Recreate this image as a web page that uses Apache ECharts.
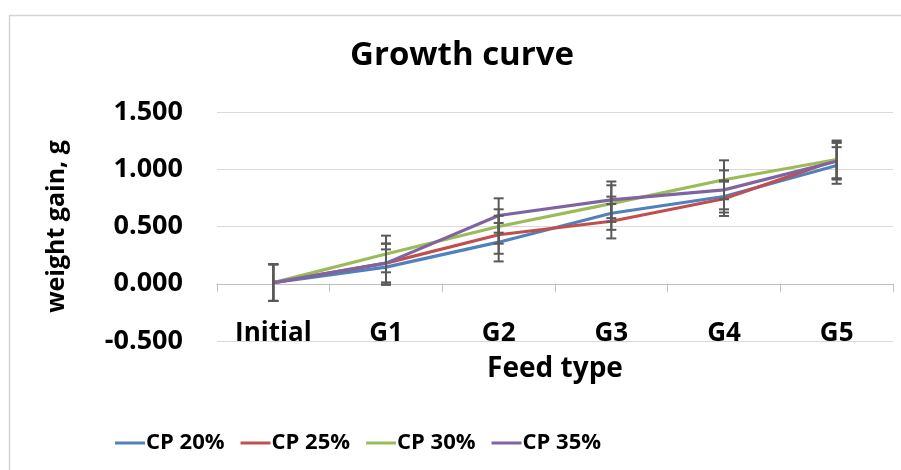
<!DOCTYPE html>
<html>
<head>
<meta charset="utf-8">
<script src="https://cdn.jsdelivr.net/npm/echarts@6/dist/echarts.min.js"></script>
<style>
html,body{margin:0;padding:0;background:#fff;}
#c{width:901px;height:470px;}
</style>
</head>
<body>
<div id="c"></div>
<script>
var categories = ['Initial', 'G1', 'G2', 'G3', 'G4', 'G5'];
var seriesNames = ['CP 20%', 'CP 25%', 'CP 30%', 'CP 35%'];
var cp20 = [0.01, 0.145, 0.363, 0.616, 0.762, 1.033];
var cp25 = [0.01, 0.18, 0.428, 0.546, 0.742, 1.08];
var cp30 = [0.01, 0.26, 0.50, 0.70, 0.908, 1.085];
var cp35 = [0.01, 0.18, 0.596, 0.733, 0.82, 1.07];
var err20 = [0.16, 0.155, 0.168, 0.145, 0.14, 0.16];
var err25 = [0.16, 0.17, 0.166, 0.15, 0.15, 0.16];
var err30 = [0.16, 0.16, 0.15, 0.16, 0.17, 0.166];
var err35 = [0.16, 0.17, 0.15, 0.16, 0.17, 0.16];
var yTicks = [-0.5, 0, 0.5, 1.0, 1.5];

var colors = ['#4F81BD', '#C0504D', '#9BBB59', '#8064A2'];
var values = [cp20, cp25, cp30, cp35];
var errs = [err20, err25, err30, err35];
var FONT = 'Open Sans';

var series = [];
values.forEach(function (v, i) {
  series.push({
    name: seriesNames[i], type: 'line', data: v, symbol: 'none',
    lineStyle: { color: colors[i], width: 3.2 }, itemStyle: { color: colors[i] },
    z: 2, animation: false
  });
});
values.forEach(function (v, i) {
  series.push({
    type: 'custom', name: 'err' + i, z: 5, animation: false,
    data: v.map(function (y, k) { return [k, y - errs[i][k], y + errs[i][k]]; }),
    renderItem: function (params, api) {
      var lo = api.coord([api.value(0), api.value(1)]);
      var hi = api.coord([api.value(0), api.value(2)]);
      var w = 5;
      var st = { stroke: '#595959', lineWidth: 2 };
      return {
        type: 'group', children: [
          { type: 'line', shape: { x1: hi[0], y1: hi[1], x2: lo[0], y2: lo[1] }, style: st },
          { type: 'line', shape: { x1: hi[0] - w, y1: hi[1], x2: hi[0] + w, y2: hi[1] }, style: st },
          { type: 'line', shape: { x1: lo[0] - w, y1: lo[1], x2: lo[0] + w, y2: lo[1] }, style: st }
        ]
      };
    }
  });
});

var chart = echarts.init(document.getElementById('c'), null, { renderer: 'canvas' });
chart.setOption({
  backgroundColor: '#fff',
  animation: false,
  textStyle: { fontFamily: FONT },
  graphic: [{
    type: 'rect', shape: { x: 9.5, y: 15.5, width: 1000, height: 1000 },
    style: { fill: 'none', stroke: '#d4d4d4', lineWidth: 1.5 }, silent: true
  }],
  title: {
    text: 'Growth curve', left: 345, top: 34,
    textStyle: { fontFamily: FONT, fontWeight: 'bold', fontSize: 33, color: '#000' }
  },
  legend: {
    data: seriesNames, left: 110, top: 427, itemWidth: 30, itemHeight: 3,
    itemGap: 16, icon: 'rect',
    textStyle: { fontFamily: FONT, fontWeight: 'bold', fontSize: 22, color: '#000', padding: [0, 0, 0, -4] }
  },
  grid: { left: 217, right: 8, top: 112, bottom: 129, containLabel: false },
  xAxis: {
    type: 'category', data: categories, boundaryGap: true,
    name: 'Feed type', nameLocation: 'middle', nameGap: 14,
    nameTextStyle: { fontFamily: FONT, fontWeight: 'bold', fontSize: 28, color: '#000' },
    axisLine: { onZero: true, lineStyle: { color: '#bfbfbf', width: 1 } },
    axisTick: { show: true, length: 8, lineStyle: { color: '#bfbfbf' } },
    axisLabel: { margin: -7, verticalAlign: 'middle', fontFamily: FONT, fontWeight: 'bold', fontSize: 26, color: '#000' }
  },
  yAxis: {
    type: 'value', min: yTicks[0], max: yTicks[yTicks.length - 1], interval: 0.5,
    name: 'weight gain, g', nameLocation: 'middle', nameGap: 148, nameRotate: 90,
    nameTextStyle: { fontFamily: FONT, fontWeight: 'bold', fontSize: 25, color: '#000' },
    axisLine: { show: false }, axisTick: { show: false },
    splitLine: { lineStyle: { color: '#d9d9d9', width: 1 } },
    axisLabel: {
      margin: 34, fontFamily: FONT, fontWeight: 'bold', fontSize: 27, color: '#000',
      formatter: function (v) { return v.toFixed(3); }
    }
  },
  series: series
});
</script>
</body>
</html>
